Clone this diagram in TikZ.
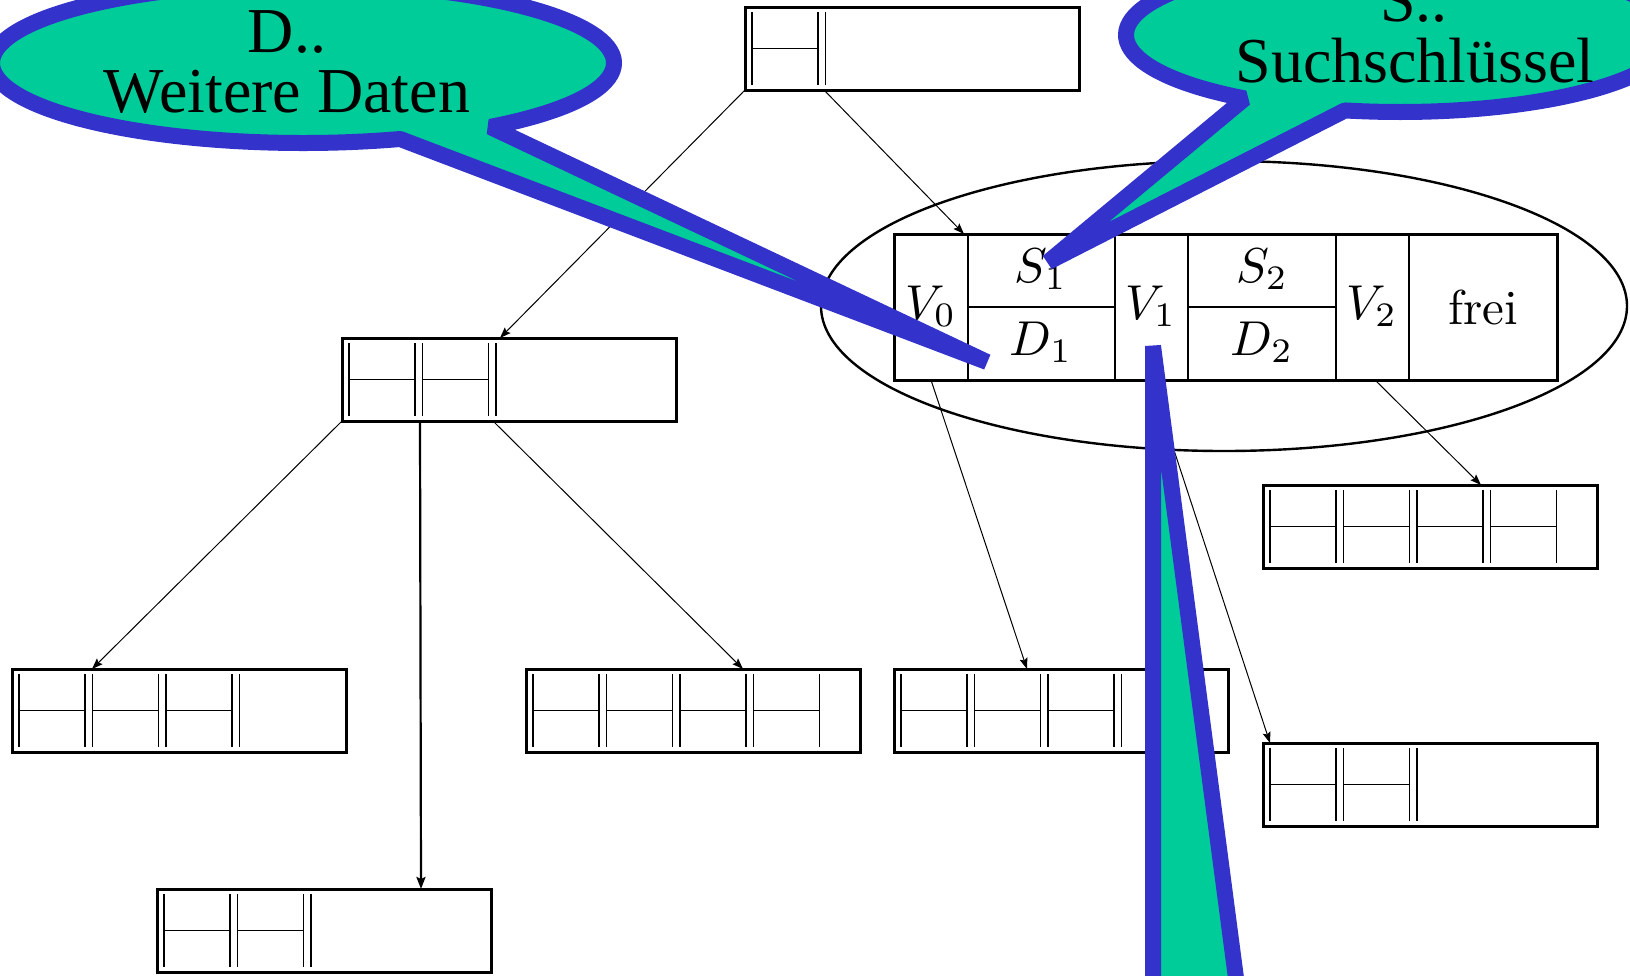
\documentclass[tikz,border=0pt]{standalone}
\usepackage{fontspec}
\newfontfamily\callfont{Liberation Serif}
\usetikzlibrary{shapes.geometric,arrows.meta,calc}

\definecolor{callgreen}{RGB}{0,204,153}
\definecolor{callblue}{RGB}{51,51,204}

\tikzset{
  recbox/.style={draw, line width=3pt, minimum width=334pt, minimum height=83pt,
    inner sep=0pt, outer sep=0pt, anchor=north west},
  bignode/.style={draw, line width=3pt, minimum width=663pt, minimum height=146pt,
    inner sep=0pt, outer sep=0pt, anchor=north west},
  cellline/.style={line width=1.5pt},
  celltext/.style={inner sep=0pt},
  link/.style={line width=1pt, -{Stealth[length=11pt,width=8pt,inset=2pt]}},
  boldlink/.style={line width=2.2pt, -{Stealth[length=12pt,width=9pt,inset=2pt]}},
  ring/.style={ellipse, draw, line width=2.4pt, minimum width=806pt, minimum height=290pt},
  callout/.style={fill=callgreen, draw=callblue, line width=16pt, line join=bevel},
  calltext/.style={inner sep=0pt, anchor=base, font=\callfont\fontsize{64}{60}\selectfont},
}
% field label, enlarged from the 10pt size
\newcommand\fieldlabel[1]{\scalebox{4.9}{#1}}

% cells of a B-tree page: #1 node name, #2 number of entries
\newcommand\pagecells[2]{%
  \begin{scope}[shift={(#1.north west)}]
    \pgfmathtruncatemacro\lastleft{min(#2+1,4)}
    \foreach \k in {1,...,\lastleft} {
      \draw[cellline] ({7+73.5*(\k-1)},5) -- ({7+73.5*(\k-1)},78);
    }
    \foreach \k in {1,...,#2} {
      \draw[cellline] ({73+73.5*(\k-1)},5) -- ({73+73.5*(\k-1)},78);
      \draw[cellline] ({7+73.5*(\k-1)},41.5) -- ({73+73.5*(\k-1)},41.5);
    }
  \end{scope}%
}

\begin{document}
\begin{tikzpicture}[x=1pt,y=-1pt]
\useasboundingbox (0,0) rectangle (1630,975);
\clip (0,0) rectangle (1630,975);

% pages of the tree
\node[recbox] (t)  at (745,7)   {};
\node[recbox] (m)  at (342,338) {};
\node[recbox] (ll) at (12,669)  {};
\node[recbox] (mb) at (526,669) {};
\node[recbox] (rm) at (894,669) {};
\node[recbox] (r1) at (1263,485) {};
\node[recbox] (r2) at (1263,743) {};
\node[recbox] (bb) at (157,889) {};
\pagecells{t}{1}
\pagecells{m}{2}
\pagecells{ll}{3}
\pagecells{mb}{4}
\pagecells{rm}{3}
\pagecells{r1}{4}
\pagecells{r2}{2}
\pagecells{bb}{2}

% enlarged page with its fields
\node[bignode] (b) at (894,234) {};
\begin{scope}[shift={(b.north west)}]
  \foreach \x in {74,221,294,442,515}
    \draw[cellline] (\x,0) -- (\x,146);
  \draw[cellline] (74,73) -- (221,73);
  \draw[cellline] (294,73) -- (442,73);
\end{scope}
\node[celltext] (v0) at (931,306)  {\fieldlabel{$V_0$}};
\node[celltext] (s1) at (1041,269) {\fieldlabel{$S_1$}};
\node[celltext] (d1) at (1041,342) {\fieldlabel{$D_1$}};
\node[celltext] (v1) at (1151,306) {\fieldlabel{$V_1$}};
\node[celltext] (s2) at (1262,269) {\fieldlabel{$S_2$}};
\node[celltext] (d2) at (1262,342) {\fieldlabel{$D_2$}};
\node[celltext] (v2) at (1372,306) {\fieldlabel{$V_2$}};
\node[celltext] (fr) at (1483,307) {\fieldlabel{frei}};
\node[ring] (ring) at (1224,306) {};

% child pointers
\draw[link] (t.south west) -- ($(m.north west)+(158,0)$);
\draw[link] ($(t.south west)+(79,0)$) -- ($(b.north west)+(70,0)$);
\draw[link] (m.south west) -- ($(ll.north west)+(80,0)$);
\draw[boldlink] ($(m.south west)+(78,0)$) -- ($(bb.north west)+(264,0)$);
\draw[link] ($(m.south west)+(151,0)$) -- ($(mb.north west)+(217,0)$);
\draw[link] ($(b.south west)+(37,0)$) -- ($(rm.north west)+(133,0)$);
\draw[link] ($(b.south west)+(257,0)$) -- ($(r2.north west)+(7,0)$);
\draw[link] ($(b.south west)+(481,0)$) -- ($(r1.north west)+(218,0)$);

% speech balloons
\path[callout] (303,63) ++(53:311 and 80)
  arc[start angle=53, end angle=-288.2, x radius=311, y radius=80]
  -- (987,362) -- cycle;
\node[calltext] (dtop) at (287,52)  {D..};
\node[calltext] (dbot) at (287,112) {Weitere Daten};

\path[callout] (1400,35) ++(124.5:274 and 77)
  arc[start angle=124.5, end angle=461.6, x radius=274, y radius=77]
  -- (1048,262) -- cycle;
\node[calltext] (stop) at (1414,21) {S..};
\node[calltext] (sbot) at (1415,82) {Suchschlüssel};

\path[callout] (1153,346) -- (1252,1100) -- (1153,1100) -- cycle;
\end{tikzpicture}
\end{document}
